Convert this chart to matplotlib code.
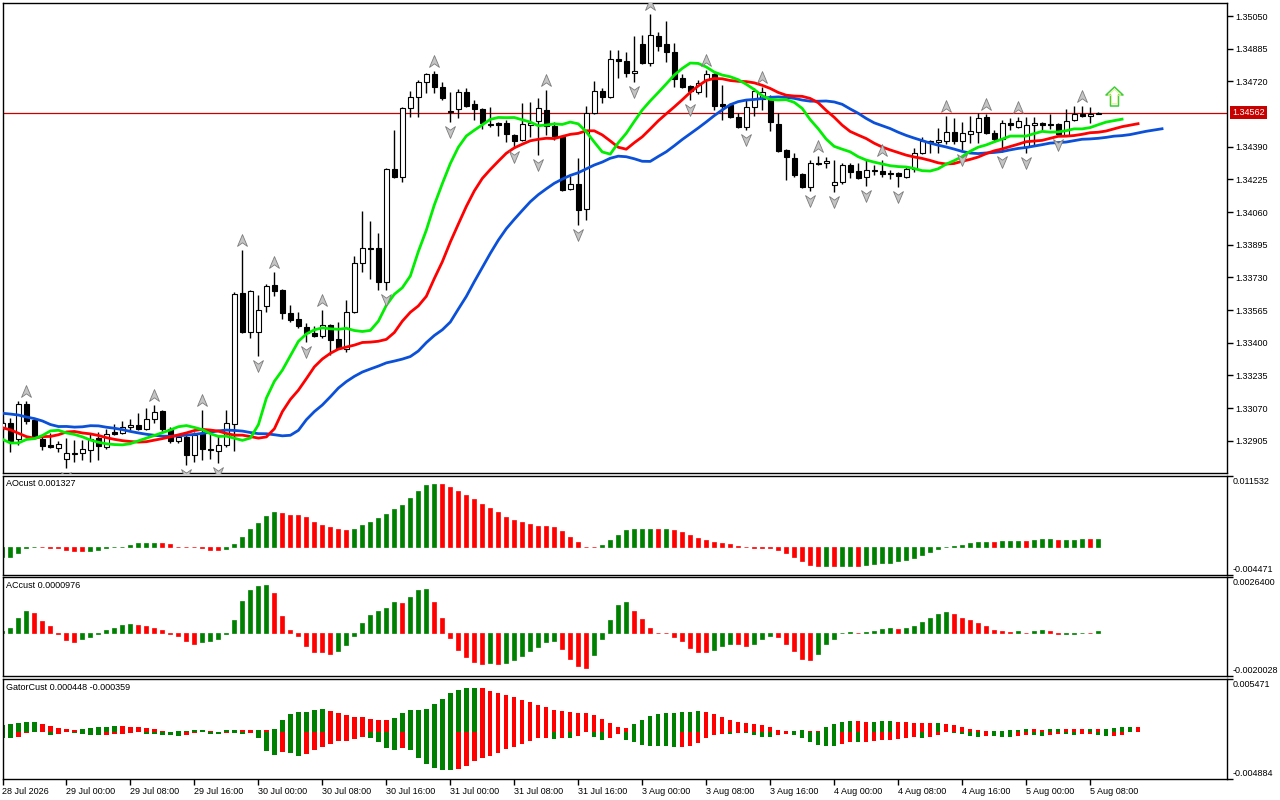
import numpy as np
import matplotlib
matplotlib.use('Agg')
import matplotlib.pyplot as plt
from matplotlib.path import Path
from matplotlib.transforms import offset_copy

plt.rcParams['font.family'] = ['Liberation Sans', 'DejaVu Sans']
plt.rcParams['font.size'] = 6.5

# ---- hourly candles, 28 Jul 16:00 .. 5 Aug 09:00 ----
open_ = [1.32970, 1.32995, 1.32914, 1.33091, 1.33010, 1.32914, 1.32884, 1.32869, 1.32813, 1.32838,
         1.32843, 1.32859, 1.32919, 1.32874, 1.32949, 1.32944, 1.32975, 1.32985, 1.32965, 1.33015,
         1.33055, 1.32965, 1.32904, 1.32924, 1.32833, 1.32939, 1.32864, 1.32853, 1.32884, 1.32990,
         1.33651, 1.33454, 1.33454, 1.33586, 1.33692, 1.33666, 1.33550, 1.33520, 1.33480, 1.33449,
         1.33434, 1.33490, 1.33419, 1.33369, 1.33555, 1.33803, 1.33879, 1.33879, 1.33707, 1.34278,
         1.34237, 1.34586, 1.34641, 1.34717, 1.34757, 1.34692, 1.34570, 1.34581, 1.34666, 1.34606,
         1.34581, 1.34505, 1.34510, 1.34510, 1.34449, 1.34424, 1.34500, 1.34520, 1.34575, 1.34495,
         1.34439, 1.34177, 1.34202, 1.34076, 1.34560, 1.34671, 1.34641, 1.34833, 1.34823, 1.34762,
         1.34909, 1.34813, 1.34949, 1.34909, 1.34868, 1.34737, 1.34697, 1.34666, 1.34727, 1.34757,
         1.34606, 1.34601, 1.34540, 1.34490, 1.34591, 1.34631, 1.34631, 1.34505, 1.34374, 1.34333,
         1.34252, 1.34187, 1.34308, 1.34308, 1.34197, 1.34212, 1.34298, 1.34267, 1.34237, 1.34267,
         1.34267, 1.34257, 1.34257, 1.34237, 1.34278, 1.34358, 1.34414, 1.34414, 1.34419, 1.34464,
         1.34419, 1.34454, 1.34464, 1.34540, 1.34459, 1.34429, 1.34510, 1.34490, 1.34389, 1.34500,
         1.34510, 1.34505, 1.34505, 1.34449, 1.34525, 1.34555, 1.34545, 1.34555]
high = [1.33005, 1.33020, 1.33106, 1.33106, 1.33020, 1.32924, 1.32944, 1.32904, 1.32919, 1.32909,
        1.32909, 1.32944, 1.32949, 1.32965, 1.32990, 1.33005, 1.33015, 1.33045, 1.33071, 1.33086,
        1.33060, 1.32975, 1.32939, 1.32934, 1.32949, 1.33060, 1.32939, 1.32934, 1.33060, 1.33656,
        1.33868, 1.33666, 1.33641, 1.33697, 1.33757, 1.33671, 1.33591, 1.33555, 1.33500, 1.33485,
        1.33565, 1.33495, 1.33505, 1.33616, 1.33838, 1.34065, 1.34015, 1.33954, 1.34283, 1.34475,
        1.34591, 1.34671, 1.34727, 1.34762, 1.34772, 1.34717, 1.34666, 1.34682, 1.34687, 1.34626,
        1.34586, 1.34591, 1.34515, 1.34525, 1.34454, 1.34611, 1.34616, 1.34636, 1.34676, 1.34515,
        1.34444, 1.34242, 1.34333, 1.34596, 1.34722, 1.34687, 1.34878, 1.34878, 1.34868, 1.34949,
        1.34954, 1.35060, 1.34969, 1.35025, 1.34914, 1.34757, 1.34702, 1.34727, 1.34778, 1.34762,
        1.34702, 1.34611, 1.34560, 1.34631, 1.34687, 1.34692, 1.34651, 1.34560, 1.34379, 1.34358,
        1.34257, 1.34323, 1.34343, 1.34338, 1.34323, 1.34308, 1.34308, 1.34308, 1.34323, 1.34298,
        1.34323, 1.34272, 1.34262, 1.34288, 1.34384, 1.34439, 1.34424, 1.34485, 1.34545, 1.34535,
        1.34515, 1.34545, 1.34560, 1.34555, 1.34475, 1.34525, 1.34535, 1.34540, 1.34540, 1.34540,
        1.34515, 1.34555, 1.34510, 1.34581, 1.34596, 1.34596, 1.34591, 1.34566]
low = [1.32960, 1.32848, 1.32884, 1.32990, 1.32919, 1.32859, 1.32869, 1.32848, 1.32768, 1.32798,
       1.32808, 1.32798, 1.32808, 1.32864, 1.32934, 1.32939, 1.32960, 1.32960, 1.32960, 1.32995,
       1.32949, 1.32894, 1.32894, 1.32783, 1.32798, 1.32808, 1.32813, 1.32793, 1.32874, 1.32854,
       1.33449, 1.33424, 1.33333, 1.33555, 1.33636, 1.33520, 1.33505, 1.33475, 1.33404, 1.33429,
       1.33424, 1.33338, 1.33369, 1.33353, 1.33550, 1.33757, 1.33722, 1.33666, 1.33666, 1.34232,
       1.34212, 1.34540, 1.34540, 1.34661, 1.34661, 1.34626, 1.34515, 1.34535, 1.34591, 1.34525,
       1.34480, 1.34490, 1.34444, 1.34414, 1.34389, 1.34419, 1.34439, 1.34348, 1.34449, 1.34424,
       1.34166, 1.34171, 1.33995, 1.34020, 1.34555, 1.34611, 1.34636, 1.34737, 1.34742, 1.34717,
       1.34808, 1.34798, 1.34873, 1.34818, 1.34692, 1.34687, 1.34626, 1.34656, 1.34641, 1.34576,
       1.34525, 1.34535, 1.34485, 1.34475, 1.34545, 1.34576, 1.34469, 1.34363, 1.34222, 1.34237,
       1.34182, 1.34166, 1.34298, 1.34283, 1.34161, 1.34202, 1.34232, 1.34227, 1.34192, 1.34247,
       1.34237, 1.34227, 1.34187, 1.34232, 1.34262, 1.34353, 1.34358, 1.34358, 1.34404, 1.34404,
       1.34374, 1.34409, 1.34409, 1.34454, 1.34414, 1.34363, 1.34475, 1.34485, 1.34358, 1.34399,
       1.34475, 1.34480, 1.34449, 1.34444, 1.34520, 1.34540, 1.34510, 1.34553]
close = [1.32995, 1.32904, 1.33091, 1.33005, 1.32924, 1.32879, 1.32874, 1.32889, 1.32843, 1.32843,
         1.32864, 1.32914, 1.32879, 1.32939, 1.32939, 1.32975, 1.32985, 1.32965, 1.33015, 1.33050,
         1.32965, 1.32904, 1.32924, 1.32833, 1.32934, 1.32864, 1.32859, 1.32884, 1.32995, 1.33646,
         1.33454, 1.33661, 1.33565, 1.33687, 1.33661, 1.33550, 1.33515, 1.33485, 1.33449, 1.33434,
         1.33490, 1.33414, 1.33374, 1.33555, 1.33803, 1.33879, 1.33874, 1.33707, 1.34278, 1.34237,
         1.34586, 1.34641, 1.34717, 1.34757, 1.34692, 1.34636, 1.34565, 1.34666, 1.34596, 1.34581,
         1.34510, 1.34500, 1.34500, 1.34454, 1.34419, 1.34505, 1.34510, 1.34586, 1.34495, 1.34444,
         1.34171, 1.34202, 1.34070, 1.34560, 1.34671, 1.34641, 1.34833, 1.34823, 1.34762, 1.34772,
         1.34813, 1.34954, 1.34899, 1.34868, 1.34732, 1.34692, 1.34671, 1.34712, 1.34757, 1.34596,
         1.34596, 1.34540, 1.34490, 1.34591, 1.34671, 1.34666, 1.34515, 1.34368, 1.34338, 1.34247,
         1.34187, 1.34308, 1.34303, 1.34318, 1.34212, 1.34298, 1.34262, 1.34232, 1.34272, 1.34272,
         1.34252, 1.34254, 1.34242, 1.34278, 1.34358, 1.34419, 1.34419, 1.34424, 1.34464, 1.34419,
         1.34459, 1.34469, 1.34535, 1.34459, 1.34429, 1.34510, 1.34500, 1.34520, 1.34500, 1.34510,
         1.34500, 1.34500, 1.34454, 1.34520, 1.34555, 1.34545, 1.34555, 1.34562]

# alligator values already on the chart before the first candle (jaw shift 8, teeth 5, lips 3)
jaw_head = [1.33044, 1.33040, 1.33035, 1.33025, 1.33017, 1.33005, 1.32987, 1.32977]
teeth_head = [1.32971, 1.32960, 1.32943, 1.32926, 1.32918]
lips_head = [1.32912, 1.32894, 1.32894]

fractal_up = [3, 19, 25, 30, 34, 40, 54, 68, 81, 88, 95, 102, 110, 118, 123, 127, 135]
fractal_down = [8, 23, 27, 32, 38, 48, 56, 64, 67, 72, 79, 86, 93, 101, 104, 108, 112, 120, 125, 128, 132]
signal_bar = 139
signal_price = 1.34644
last_price = 1.34562

ao = [-0.00169, -0.00158, -0.00093, -0.00011, -0.00005, -0.00008, -0.00011, -0.00016, -0.00049, -0.00060,
      -0.00063, -0.00060, -0.00057, -0.00011, -0.00005, 0.00003, 0.00038, 0.00065, 0.00068, 0.00071,
      0.00065, 0.00049, 0.00003, -0.00005, -0.00008, -0.00016, -0.00044, -0.00049, -0.00033, 0.00049,
      0.00163, 0.00294, 0.00397, 0.00506, 0.00571, 0.00544, 0.00522, 0.00520, 0.00479, 0.00408,
      0.00365, 0.00326, 0.00294, 0.00277, 0.00294, 0.00359, 0.00408, 0.00468, 0.00539, 0.00618,
      0.00686, 0.00800, 0.00914, 0.01006, 0.01028, 0.01027, 0.00979, 0.00914, 0.00849, 0.00783,
      0.00702, 0.00636, 0.00571, 0.00490, 0.00446, 0.00408, 0.00375, 0.00343, 0.00342, 0.00326,
      0.00261, 0.00163, 0.00082, -0.00005, -0.00008, 0.00033, 0.00114, 0.00196, 0.00277, 0.00294,
      0.00295, 0.00296, 0.00293, 0.00296, 0.00280, 0.00245, 0.00196, 0.00147, 0.00114, 0.00082,
      0.00065, 0.00049, 0.00016, 0.00005, -0.00010, -0.00015, -0.00020, -0.00049, -0.00098, -0.00163,
      -0.00229, -0.00294, -0.00310, -0.00308, -0.00312, -0.00309, -0.00307, -0.00310, -0.00299, -0.00278,
      -0.00267, -0.00261, -0.00234, -0.00212, -0.00180, -0.00131, -0.00082, -0.00027, 0.00005, 0.00011,
      0.00033, 0.00065, 0.00082, 0.00084, 0.00080, 0.00098, 0.00100, 0.00103, 0.00098, 0.00114,
      0.00130, 0.00132, 0.00116, 0.00118, 0.00120, 0.00131, 0.00128, 0.001327]
ac = [0.00013, 0.00027, 0.00071, 0.00104, 0.00093, 0.00057, 0.00032, -0.00003, -0.00030, -0.00040,
      -0.00028, -0.00016, -0.00005, 0.00017, 0.00027, 0.00041, 0.00042, 0.00040, 0.00036, 0.00027,
      0.00017, -0.00003, -0.00014, -0.00035, -0.00049, -0.00043, -0.00035, -0.00028, -0.00004, 0.00060,
      0.00150, 0.00202, 0.00221, 0.00226, 0.00188, 0.00079, 0.00017, -0.00014, -0.00058, -0.00087,
      -0.00090, -0.00096, -0.00082, -0.00054, -0.00011, 0.00046, 0.00088, 0.00104, 0.00117, 0.00145,
      0.00141, 0.00169, 0.00202, 0.00207, 0.00145, 0.00074, -0.00021, -0.00077, -0.00111, -0.00134,
      -0.00144, -0.00141, -0.00142, -0.00140, -0.00125, -0.00106, -0.00082, -0.00063, -0.00040, -0.00036,
      -0.00073, -0.00120, -0.00153, -0.00163, -0.00101, -0.00025, 0.00060, 0.00131, 0.00145, 0.00103,
      0.00065, 0.00027, 0.00003, 0.00002, -0.00016, -0.00035, -0.00068, -0.00087, -0.00088, -0.00079,
      -0.00059, -0.00049, -0.00050, -0.00059, -0.00049, -0.00025, -0.00014, -0.00016, -0.00049, -0.00082,
      -0.00120, -0.00125, -0.00096, -0.00049, -0.00025, 0.00003, 0.00005, 0.00002, 0.00004, 0.00013,
      0.00022, 0.00027, 0.00022, 0.00027, 0.00036, 0.00051, 0.00070, 0.00089, 0.00098, 0.00089,
      0.00070, 0.00060, 0.00046, 0.00032, 0.00017, 0.00013, 0.00008, 0.00013, 0.00003, 0.00013,
      0.00017, 0.00013, -0.00003, -0.00002, -0.00001, 0.00002, 0.00001, 0.0000976]

price_ticks = [1.35050, 1.34885, 1.34720, 1.34390, 1.34225, 1.34060, 1.33895,
               1.33730, 1.33565, 1.33400, 1.33235, 1.33070, 1.32905]
time_labels = ['28 Jul 2026', '29 Jul 00:00', '29 Jul 08:00', '29 Jul 16:00', '30 Jul 00:00',
               '30 Jul 08:00', '30 Jul 16:00', '31 Jul 00:00', '31 Jul 08:00', '31 Jul 16:00',
               '3 Aug 00:00', '3 Aug 08:00', '3 Aug 16:00', '4 Aug 00:00', '4 Aug 08:00',
               '4 Aug 16:00', '5 Aug 00:00', '5 Aug 08:00']

GREEN = '#008000'
RED = '#ff0000'

o = np.array(open_); h = np.array(high); l = np.array(low); c = np.array(close)
n = len(c)
x = np.arange(n)
med = (h + l) / 2


def smma(seed, period):
    out = []
    v = seed
    for m in med:
        v = (v * (period - 1) + m) / period
        out.append(v)
    return np.array(out)


jaw = np.concatenate([jaw_head, smma(jaw_head[-1], 13)])
teeth = np.concatenate([teeth_head, smma(teeth_head[-1], 8)])
lips = np.concatenate([lips_head, smma(lips_head[-1], 5)])
gator_up = np.abs(jaw[:len(teeth)] - teeth)
gator_dn = -np.abs(teeth[:len(lips)] - lips)


def updown_colors(v, rising_good=True):
    cols = [GREEN]
    for i in range(1, len(v)):
        up = v[i] > v[i - 1]
        cols.append(GREEN if up == rising_good else RED)
    return cols


# ---- layout in pixels ----
W, H = 1280, 800
left, right = 2.5, 1227


def panel(top, bottom, **kw):
    return fig.add_axes([left / W, 1 - bottom / H, (right - left) / W, (bottom - top) / H], **kw)


fig = plt.figure(figsize=(12.8, 8), dpi=100)
ax = panel(2.5, 473)
ax_ao = panel(476, 574.5, sharex=ax)
ax_ac = panel(577, 676, sharex=ax)
ax_g = panel(679, 779, sharex=ax)

# candles
ax.axhline(last_price, color='#c80000', lw=0.9, zorder=1)
ax.vlines(x, l, h, color='black', lw=1, zorder=2)
bull = c >= o
ax.bar(x, np.abs(c - o), bottom=np.minimum(o, c), width=0.62,
       color=np.where(bull, 'white', 'black'), edgecolor='black', linewidth=0.8, zorder=3)

# alligator
ax.plot(np.arange(len(jaw)), jaw, color='#0a50d8', lw=2, zorder=4)
ax.plot(np.arange(len(teeth)), teeth, color='#ff0000', lw=2, zorder=5)
ax.plot(np.arange(len(lips)), lips, color='#00ee00', lw=2, zorder=6)

# fractals
up_path = Path([(0, 0.5), (0.42, -0.5), (0, -0.2), (-0.42, -0.5), (0, 0.5)],
               [Path.MOVETO, Path.LINETO, Path.LINETO, Path.LINETO, Path.CLOSEPOLY])
dn_path = Path([(0, -0.5), (0.42, 0.5), (0, 0.2), (-0.42, 0.5), (0, -0.5)],
               [Path.MOVETO, Path.LINETO, Path.LINETO, Path.LINETO, Path.CLOSEPOLY])
tr_up = offset_copy(ax.transData, fig=fig, x=0, y=10, units='dots')
tr_dn = offset_copy(ax.transData, fig=fig, x=0, y=-10, units='dots')
ax.plot(fractal_up, h[fractal_up], ls='none', marker=up_path, ms=8.5, mfc='#c4c4c4',
        mec='#7c7c7c', mew=0.6, transform=tr_up, zorder=7)
ax.plot(fractal_down, l[fractal_down], ls='none', marker=dn_path, ms=8.5, mfc='#c4c4c4',
        mec='#7c7c7c', mew=0.6, transform=tr_dn, zorder=7)

# signal arrow
arrow = Path([(-4, -9.5), (4, -9.5), (4, 1.5), (8.5, 1.5), (0, 9.5), (-8.5, 1.5), (-4, 1.5), (-4, -9.5)],
             [Path.MOVETO] + [Path.LINETO] * 6 + [Path.CLOSEPOLY])
ax.plot([signal_bar], [signal_price], marker=arrow, ms=13.7, mfc='white', mec='#3ccc3c', mew=1.1, zorder=8)
ax.plot([signal_bar], [signal_price], marker=arrow, ms=10.5, mfc='none', mec='#e4ee90', mew=0.7, zorder=8)

ax.set_xlim((left - 2) / 8, (right - 2) / 8)
ax.set_ylim(1.35131 - 0.0000505 * 473, 1.35131 - 0.0000505 * 2.5)
ax.set_yticks(price_ticks)
ax.set_yticklabels(['%.5f' % p for p in price_ticks])
ax.annotate('%.5f' % last_price, xy=(1, last_price), xycoords=('axes fraction', 'data'),
            xytext=(5, 0), textcoords='offset pixels', ha='left', va='center', color='white',
            bbox=dict(boxstyle='square,pad=0.22', fc='#c80000', ec='none'))

# AO
ax_ao.bar(x, ao, width=0.5, color=updown_colors(ao), edgecolor=updown_colors(ao), linewidth=0.5)
ao_lim = (-0.004471, 0.011532)

# AC
ax_ac.bar(x, ac, width=0.5, color=updown_colors(ac), edgecolor=updown_colors(ac), linewidth=0.5)
ac_lim = (-0.0020028, 0.0026400)

# Gator
ax_g.bar(np.arange(len(gator_up)), gator_up, width=0.55, color=updown_colors(gator_up))
ax_g.bar(np.arange(len(gator_dn)), gator_dn, width=0.55, color=updown_colors(gator_dn, rising_good=False))
g_lim = (-0.004884, 0.005471)

for a, name, lim, fmt in [(ax_ao, 'AOcust 0.001327', ao_lim, '%.6f'),
                          (ax_ac, 'ACcust 0.0000976', ac_lim, '%.7f'),
                          (ax_g, 'GatorCust 0.000448 -0.000359', g_lim, '%.6f')]:
    a.set_ylim(*lim)
    a.set_yticks(lim)
    a.tick_params(axis='y', labelright=False)
    a.annotate(name, xy=(0, 1), xycoords='axes fraction', xytext=(4, -8),
               textcoords='offset pixels', ha='left', va='center')
    a.annotate(fmt % lim[1], xy=(1, 1), xycoords='axes fraction', xytext=(6, -1),
               textcoords='offset pixels', ha='left', va='top')
    a.annotate(fmt % lim[0], xy=(1, 0), xycoords='axes fraction', xytext=(6, 1),
               textcoords='offset pixels', ha='left', va='bottom', annotation_clip=False)

for a in [ax, ax_ao, ax_ac, ax_g]:
    a.set_facecolor('white')
    for s in a.spines.values():
        s.set_color('black')
        s.set_linewidth(1)
    a.yaxis.tick_right()
    a.tick_params(axis='y', direction='out', length=4, width=1, pad=2, labelsize=6.5)
    a.tick_params(axis='x', bottom=False, labelbottom=False)

for a in [ax_ao, ax_ac, ax_g]:
    a.tick_params(axis='y', labelright=False)

ax_g.set_xticks(np.arange(0, 8 * len(time_labels), 8))
ax_g.set_xticklabels(time_labels, ha='left')
ax_g.tick_params(axis='x', bottom=True, labelbottom=True, direction='out', length=4, width=1,
                 pad=1.5, labelsize=6.5)

fig.savefig('out.png', dpi=100)
